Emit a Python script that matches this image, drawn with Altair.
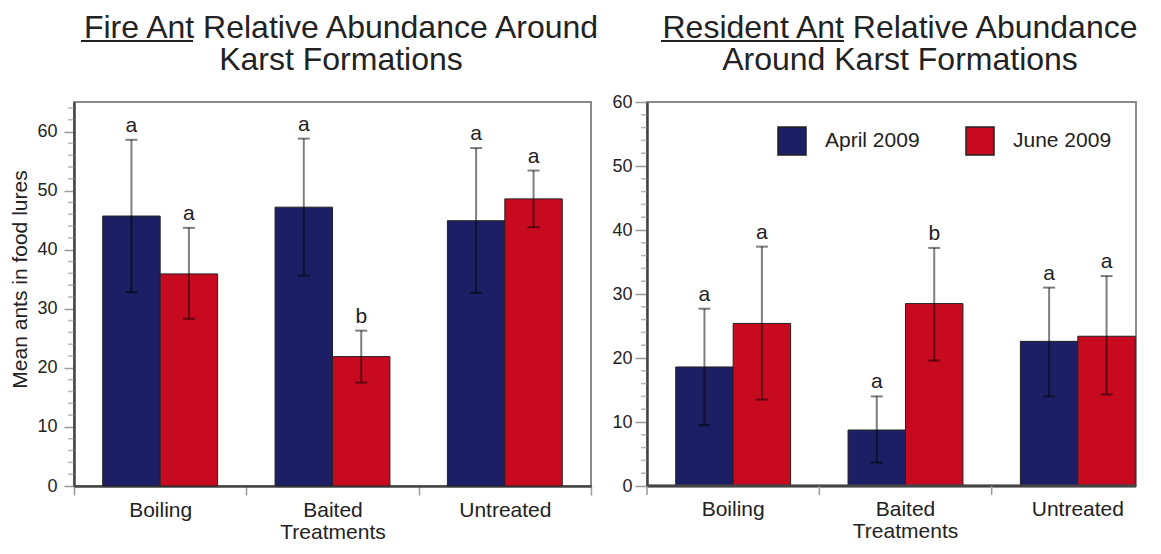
import altair as alt
import pandas as pd

treatments = ["Boiling", "Baited Treatments", "Untreated"]
months = ["April 2009", "June 2009"]
bar_colors = ["#1c1f63", "#c80a20"]

# Fire ant panel (order: Boiling Apr, Boiling Jun, Baited Apr, Baited Jun, Untreated Apr, Untreated Jun)
fire_mean = [45.7, 35.9, 47.2, 21.9, 44.9, 48.6]
fire_low = [32.8, 28.3, 35.6, 17.5, 32.7, 43.8]
fire_high = [58.6, 43.7, 58.8, 26.3, 57.2, 53.4]
fire_letters = ["a", "a", "a", "b", "a", "a"]

# Resident ant panel
res_mean = [18.6, 25.4, 8.75, 28.5, 22.6, 23.4]
res_low = [9.5, 13.5, 3.65, 19.6, 14.0, 14.3]
res_high = [27.7, 37.4, 14.0, 37.2, 31.0, 32.8]
res_letters = ["a", "a", "a", "b", "a", "a"]

fire_title = ["Fire Ant Relative Abundance Around", "Karst Formations"]
res_title = ["Resident Ant Relative Abundance", "Around Karst Formations"]
y_title = "Mean ants in food lures"

major_ticks_fire = [0, 10, 20, 30, 40, 50, 60]
minor_ticks_fire = [2, 4, 6, 8, 12, 14, 16, 18, 22, 24, 26, 28, 32, 34, 36, 38,
                    42, 44, 46, 48, 52, 54, 56, 58, 62, 64]
major_ticks_res = [0, 10, 20, 30, 40, 50, 60]
minor_ticks_res = [2, 4, 6, 8, 12, 14, 16, 18, 22, 24, 26, 28, 32, 34, 36, 38,
                   42, 44, 46, 48, 52, 54, 56, 58]

FONT = "Liberation Sans"
H = 384
TITLE_Y = -89
UL_Y = -61
XTICK = 9
XPAD = 4


def table(mean, low, high, letters):
    rows = []
    k = 0
    for t in treatments:
        for m in months:
            rows.append({"treatment": t, "month": m, "mean": mean[k],
                         "low": low[k], "high": high[k], "letter": letters[k]})
            k += 1
    return pd.DataFrame(rows)


def y_axis(values, title, tick_major, label_pad):
    kw = dict(
        values=values, tickSize=tick_major,
        labelPadding=label_pad, labelFontSize=18, labelColor="#222", labelFont=FONT,
        tickColor="#999", tickWidth=1.5, domainColor="#444", domainWidth=2.5, grid=False,
    )
    if title:
        kw.update(title=title, titleFontSize=21, titleFontWeight="normal", titleColor="#222",
                  titlePadding=6, titleFont=FONT, titleY=H / 2 - 15)
    else:
        kw.update(title=None)
    return alt.Axis(**kw)


def panel(df, title_lines, ymax, width, x_scale, x_axis, yax, minor_vals, legend, underline, extra=()):
    xkw = {} if x_axis is not None else {"axis": None}
    xo = alt.XOffset("month:N", sort=months, scale=alt.Scale(paddingInner=0, paddingOuter=0.5))
    x_plain = alt.X("treatment:N", sort=treatments, **xkw)
    base = alt.Chart(df)
    x_main = alt.X("treatment:N", sort=treatments, scale=x_scale, axis=x_axis) if x_axis is not None \
        else alt.X("treatment:N", sort=treatments, scale=x_scale, axis=None)
    bars = base.mark_bar(stroke="#222", strokeWidth=1).encode(
        x=x_main,
        xOffset=xo,
        y=alt.Y("mean:Q", scale=alt.Scale(domain=[0, ymax], nice=False), axis=yax),
        fill=alt.Fill("month:N", sort=months,
                      scale=alt.Scale(domain=months, range=bar_colors), legend=legend),
    )
    err = base.mark_rule(color="black", opacity=0.5, strokeWidth=2).encode(
        x=x_plain, xOffset=xo, y="low:Q", y2="high:Q")
    cap_hi = base.mark_tick(color="black", opacity=0.5, size=12, thickness=2).encode(
        x=x_plain, xOffset=xo, y="high:Q")
    cap_lo = base.mark_tick(color="black", opacity=0.5, size=12, thickness=2).encode(
        x=x_plain, xOffset=xo, y="low:Q")
    letters = base.mark_text(fontSize=21, font=FONT, color="#222", baseline="bottom", dy=-4).encode(
        x=x_plain, xOffset=xo, y="high:Q", text="letter:N")
    minor = alt.Chart(pd.DataFrame({"v": minor_vals})).mark_tick(
        color="#999", thickness=1.5, size=6).encode(x=alt.value(-3), y=alt.Y("v:Q"))
    one = pd.DataFrame({"u": [0]})
    title = alt.Chart(one).mark_text(
        text=title_lines, fontSize=32, font=FONT, color="#222", lineHeight=32,
        align="center", baseline="top").encode(
        x=alt.value(width / 2 + 8.5), y=alt.value(TITLE_Y))
    ul = alt.Chart(one).mark_rule(color="#222", strokeWidth=2).encode(
        x=alt.value(underline[0]), x2=alt.value(underline[1]), y=alt.value(UL_Y))
    layers = [bars, err, cap_hi, cap_lo, letters, minor, title, ul] + list(extra)
    return alt.layer(*layers).properties(width=width, height=H)


x_axis_left = alt.Axis(title=None, labelAngle=0, labelFontSize=21, labelLineHeight=22, labelPadding=XPAD,
                       labelColor="#222", labelFont=FONT, tickSize=XTICK, tickColor="#999", tickWidth=1.5,
                       domainColor="#444", domainWidth=2.5, tickBand="extent",
                       labelExpr="split(datum.label, ' ')")

left = panel(
    table(fire_mean, fire_low, fire_high, fire_letters), fire_title, 65, 517,
    alt.Scale(paddingInner=0, paddingOuter=0),
    x_axis_left,
    y_axis(major_ticks_fire, y_title, 10, 7), minor_ticks_fire, None, (7, 119),
)

# right panel: plot area is cut at 489 px while the category bands keep the left panel's step
RW = 489
cats = pd.DataFrame({"treatment": treatments})
right_bottom = alt.Chart(cats).mark_rule(color="#444", strokeWidth=2.5).encode(
    x=alt.value(0), x2=alt.value(RW), y=alt.value(H))
right_ticks = alt.Chart(cats).mark_rule(color="#999", strokeWidth=1.5).encode(
    x=alt.X("treatment:N", sort=treatments, bandPosition=0, axis=None),
    y=alt.value(H), y2=alt.value(H + XTICK))
right_labels = alt.Chart(cats).mark_text(
    fontSize=21, font=FONT, color="#222", baseline="top", align="center",
    lineHeight=22, lineBreak=" ").encode(
    x=alt.X("treatment:N", sort=treatments, axis=None),
    y=alt.value(H + XTICK + XPAD), text="treatment:N")

right = panel(
    table(res_mean, res_low, res_high, res_letters), res_title, 60, RW,
    alt.Scale(paddingInner=0, paddingOuter=0, range=[0, 517]),
    None,
    y_axis(major_ticks_res, None, 12, 3), minor_ticks_res,
    alt.Legend(orient="none", legendX=130, legendY=24, direction="horizontal", title=None,
               symbolType="square", symbolSize=784, symbolStrokeColor="#222", symbolStrokeWidth=1.5,
               symbolOpacity=1, labelFontSize=21, labelColor="#222", labelFont=FONT,
               labelOffset=18, columnPadding=43),
    (14, 197), extra=(right_bottom, right_ticks, right_labels),
)

chart = alt.hconcat(left, right, spacing=56, bounds="flush").resolve_legend(fill="independent").properties(
    padding={"left": 0, "top": 3, "right": 0, "bottom": 0}
).configure(font=FONT).configure_view(stroke="#8a8a8a", strokeWidth=2)

chart.save("out.html", embed_options={"renderer": "svg", "actions": False})
